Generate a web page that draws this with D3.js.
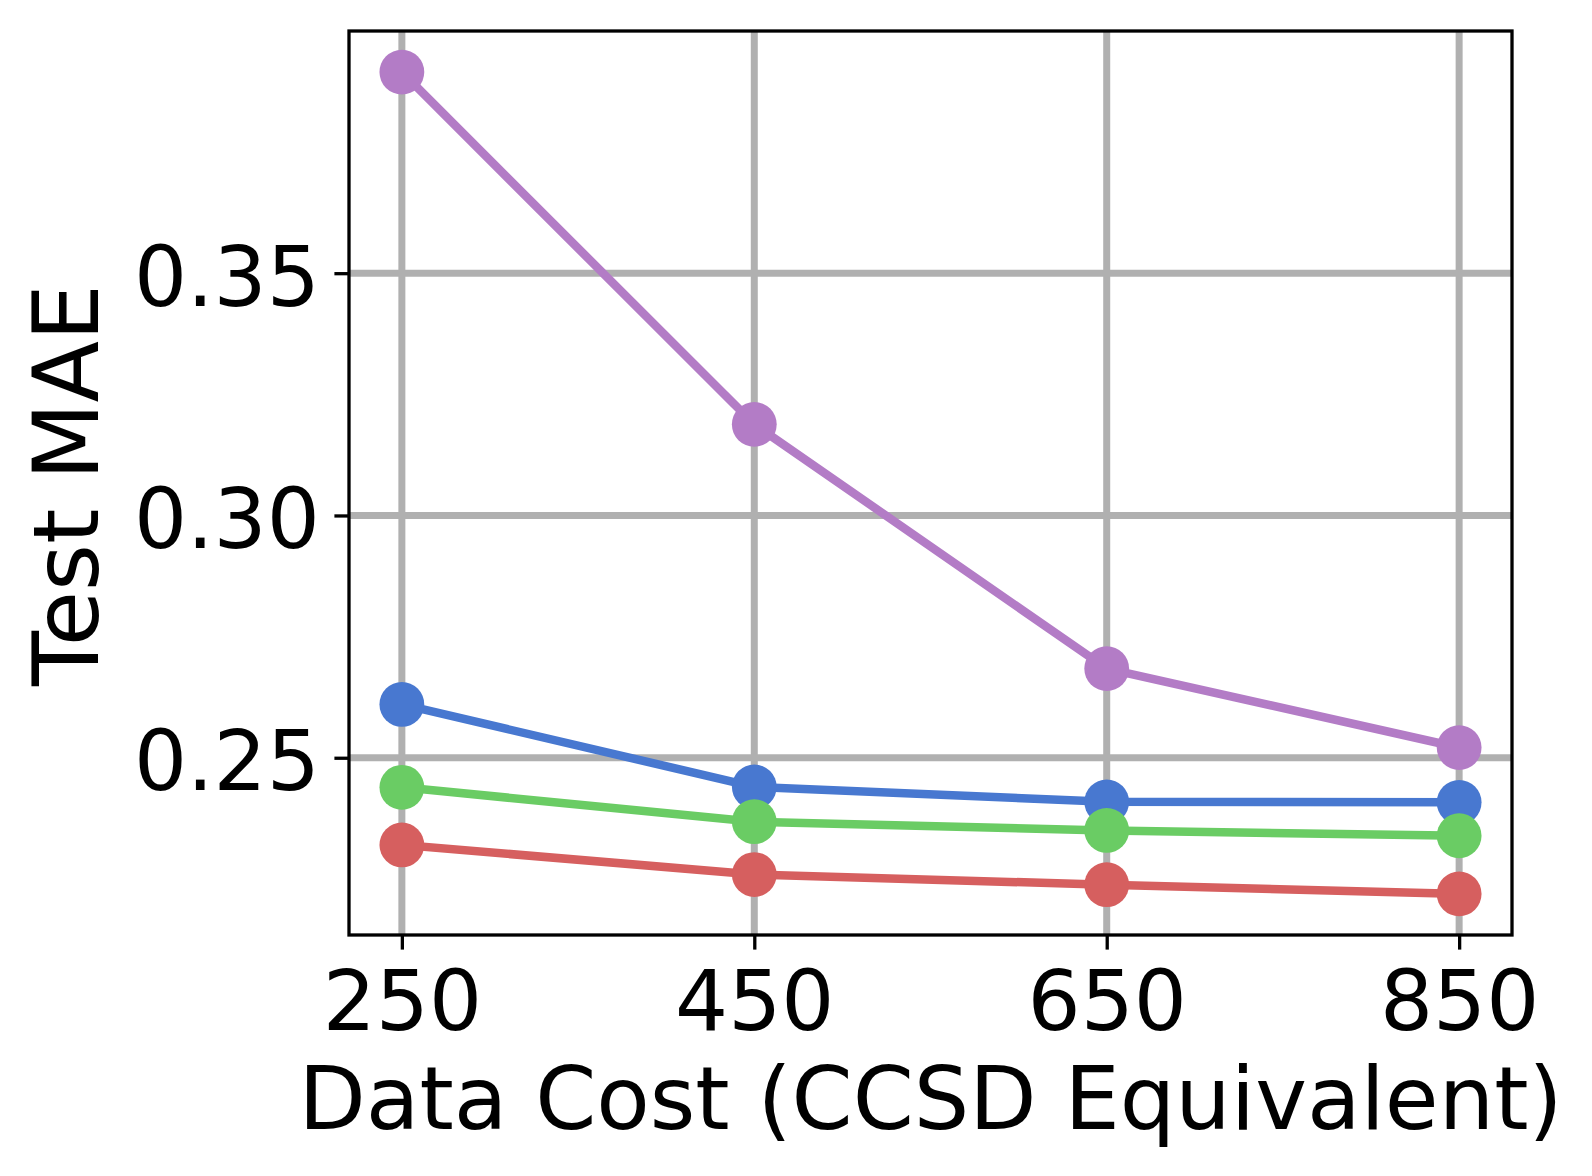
<!DOCTYPE html>
<html>
<head>
<meta charset="utf-8">
<script src="https://cdn.jsdelivr.net/npm/d3@7"></script>
<style>
  html, body { margin: 0; padding: 0; background: #fff; }
  svg { display: block; }
  text { font-family: "DejaVu Sans", sans-serif; fill: #000; }
</style>
</head>
<body>
<svg id="chart" width="1592" height="1176"></svg>
<script>
const dataCost = [250, 450, 650, 850];
const xTicks = [250, 450, 650, 850];
const yTicks = [0.25, 0.30, 0.35];
const yTickLabels = ["0.25", "0.30", "0.35"];

const seriesNames = ["blue", "green", "red", "purple"];
const blueValues   = [0.2610, 0.2440, 0.2409, 0.2408];
const greenValues  = [0.2439, 0.2368, 0.2350, 0.2339];
const redValues    = [0.2320, 0.2259, 0.2238, 0.2219];
const purpleValues = [0.3915, 0.3188, 0.2684, 0.2521];
const seriesColors = ["#4878d0", "#6acc64", "#d65f5f", "#b37cc6"];

const xLabel = "Data Cost (CCSD Equivalent)";
const yLabel = "Test MAE";

const series = [
  { name: seriesNames[0], values: blueValues, color: seriesColors[0] },
  { name: seriesNames[1], values: greenValues, color: seriesColors[1] },
  { name: seriesNames[2], values: redValues, color: seriesColors[2] },
  { name: seriesNames[3], values: purpleValues, color: seriesColors[3] }
];

const mLeft = 349, mRight = 1512, mTop = 31, mBottom = 935;
const svg = d3.select("#chart");

// domains with 5% margins like matplotlib
const xMin = d3.min(dataCost), xMax = d3.max(dataCost);
const xPad = (xMax - xMin) * 0.05;
const allY = [].concat(blueValues, greenValues, redValues, purpleValues);
const yMin = d3.min(allY), yMax = d3.max(allY);
const yPad = (yMax - yMin) * 0.05;

const x = d3.scaleLinear().domain([xMin - xPad, xMax + xPad]).range([mLeft, mRight]);
const y = d3.scaleLinear().domain([yMin - yPad, yMax + yPad]).range([mBottom, mTop]);

// grid
const grid = svg.append("g");
grid.selectAll("line.gx").data(xTicks).enter().append("line")
  .attr("x1", d => x(d)).attr("x2", d => x(d))
  .attr("y1", mTop).attr("y2", mBottom)
  .attr("stroke", "#b0b0b0").attr("stroke-width", 7);
grid.selectAll("line.gy").data(yTicks).enter().append("line")
  .attr("y1", d => y(d)).attr("y2", d => y(d))
  .attr("x1", mLeft).attr("x2", mRight)
  .attr("stroke", "#b0b0b0").attr("stroke-width", 7);

// series
const lineGen = d3.line().x((d, i) => x(dataCost[i])).y(d => y(d));
series.forEach(s => {
  const g = svg.append("g");
  g.append("path").attr("d", lineGen(s.values))
    .attr("fill", "none").attr("stroke", s.color)
    .attr("stroke-width", 8.5).attr("stroke-linejoin", "round").attr("stroke-linecap", "square");
  g.selectAll("circle").data(s.values).enter().append("circle")
    .attr("cx", (d, i) => x(dataCost[i])).attr("cy", d => y(d))
    .attr("r", 22.4).attr("fill", s.color);
});

// frame
svg.append("rect").attr("x", mLeft).attr("y", mTop)
  .attr("width", mRight - mLeft).attr("height", mBottom - mTop)
  .attr("fill", "none").attr("stroke", "#000").attr("stroke-width", 3.3);

// axes
const xAxis = d3.axisBottom(x).tickValues(xTicks).tickSize(14.6).tickPadding(14.6).tickFormat(d3.format("d"));
const gx = svg.append("g").attr("transform", `translate(0,${mBottom})`).call(xAxis);
gx.select(".domain").remove();
gx.selectAll(".tick line").attr("stroke", "#000").attr("stroke-width", 3.3);
gx.selectAll(".tick text").attr("font-size", 83.5).attr("font-family", "DejaVu Sans")
  .attr("y", 95).attr("dy", null);

const yAxis = d3.axisLeft(y).tickValues(yTicks).tickSize(14.6).tickPadding(14.6)
  .tickFormat((d, i) => yTickLabels[i]);
const gy = svg.append("g").attr("transform", `translate(${mLeft},0)`).call(yAxis);
gy.select(".domain").remove();
gy.selectAll(".tick line").attr("stroke", "#000").attr("stroke-width", 3.3);
gy.selectAll(".tick text").attr("font-size", 83.5).attr("font-family", "DejaVu Sans")
  .attr("dy", null).attr("y", 32);

// labels
svg.append("text").attr("x", (mLeft + mRight) / 2).attr("y", 1129)
  .attr("text-anchor", "middle").attr("font-size", 87.5).text(xLabel);
svg.append("text").attr("transform", `translate(98,${(mTop + mBottom) / 2 + 2}) rotate(-90)`)
  .attr("text-anchor", "middle").attr("font-size", 90).text(yLabel);
</script>
</body>
</html>
